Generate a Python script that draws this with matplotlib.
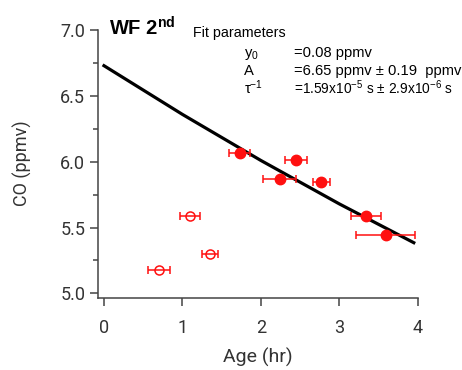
import numpy as np
import matplotlib
matplotlib.use('Agg')
from matplotlib import pyplot as plt

# data
age_fit = [1.73, 2.45, 2.24, 2.77, 3.34, 3.59]
co_fit = [6.07, 6.01, 5.87, 5.845, 5.59, 5.44]
age_fit_err = [0.13, 0.14, 0.21, 0.11, 0.195, 0.38]

age_out = [1.10, 1.35, 0.70]
co_out = [5.59, 5.30, 5.175]
age_out_err = [0.13, 0.105, 0.14]

# fitted curve, points
curve_age = [0.0, 1.0, 2.0, 3.0, 3.95]
curve_co = [6.73, 6.36, 6.01, 5.68, 5.385]

x_ticks = [0, 1, 2, 3, 4]
y_ticks = [5.0, 5.5, 6.0, 6.5, 7.0]

plt.rcParams['mathtext.fontset'] = 'custom'
plt.rcParams['mathtext.rm'] = 'Liberation Sans'
plt.rcParams['mathtext.it'] = 'Liberation Sans:italic'
plt.rcParams['mathtext.bf'] = 'Liberation Sans:bold'
plt.rcParams['mathtext.default'] = 'regular'

W, H = 462, 370
fig = plt.figure(figsize=(W / 100, H / 100), dpi=100)
ax = fig.add_axes([97.7 / W, 1 - 297.7 / H, 320 / W, 268.2 / H])

axis_col = '#444444'
red = '#ff1010'

ax.plot(curve_age, curve_co, color='black', lw=2.3, zorder=3)

ax.errorbar(age_fit, co_fit, xerr=age_fit_err, fmt='o', color=red,
            ms=7.5, ecolor=red, elinewidth=1.1, capsize=3, capthick=1.1, zorder=4)
ax.errorbar(age_out, co_out, xerr=age_out_err, fmt='o', color=red,
            mfc='none', mec=red, mew=1.1, ms=6.5, ecolor=red,
            elinewidth=1.1, capsize=3, capthick=1.1, zorder=4)

ax.set_xlim(-0.08, 4.0)
ax.set_ylim(4.967, 7.005)
ax.set_xticks(x_ticks)
ax.set_yticks(y_ticks)
ax.set_yticks(np.arange(5.25, 7.0, 0.5), minor=True)
ax.set_yticklabels(['%.1f' % v for v in y_ticks])

for s in ['top', 'right']:
    ax.spines[s].set_visible(False)
for s in ['left', 'bottom']:
    ax.spines[s].set_color(axis_col)
    ax.spines[s].set_linewidth(1.1)

ax.tick_params(axis='both', which='major', direction='out', length=6,
               width=1.1, color=axis_col, labelcolor='#333333', labelsize=13)
ax.tick_params(axis='y', which='minor', direction='out', length=3.5,
               width=1.1, color=axis_col)
ax.tick_params(axis='x', pad=9)
ax.tick_params(axis='y', pad=3)
for lab in ax.get_xticklabels() + ax.get_yticklabels():
    lab.set_family('Roboto')

ax.set_xlabel('Age (hr)', family='Roboto', fontsize=14, color='#333333', labelpad=8)
ax.set_ylabel('CO (ppmv)', family='Roboto', fontsize=13, color='#333333', labelpad=20)

def fx(px):
    return px / W

def fy(py):
    return 1 - py / H

fig.text(fx(109), fy(35.7), r'WF 2$^{\mathbf{nd}}$', fontsize=14.5, fontweight='bold',
         family='Liberation Sans', va='baseline')
fig.text(fx(193), fy(37.3), 'Fit parameters', fontsize=10.3, family='Liberation Sans', va='baseline')
rows = [
    ('y$_0$', '=0.08 ppmv', 56.7, 10.6),
    ('A', '=6.65 ppmv ± 0.19  ppmv', 75.0, 10.6),
    ('τ$^{-1}$', '=1.59x10$^{-5}$ s ± 2.9x10$^{-6}$ s', 94.0, 9.9),
]
for name, val, py, fs in rows:
    fig.text(fx(244), fy(py), name, fontsize=10.6, family='Liberation Sans', va='baseline')
    fig.text(fx(294.5), fy(py), val, fontsize=fs, family='Liberation Sans', va='baseline')

fig.savefig('out.png', dpi=100)
